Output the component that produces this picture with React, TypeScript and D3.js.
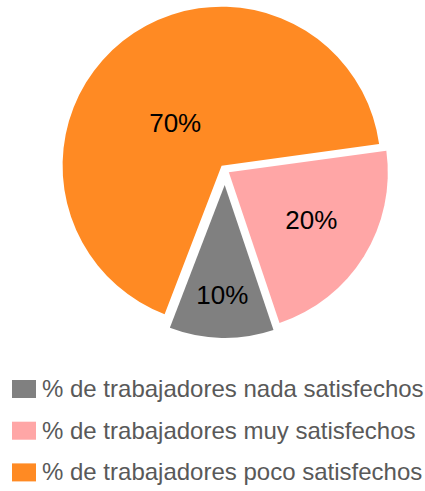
import React from "react";
import * as d3 from "d3";

const categories = [
  "% de trabajadores nada satisfechos",
  "% de trabajadores muy satisfechos",
  "% de trabajadores poco satisfechos",
];
// slice sizes
const values = [11, 22, 67];
const labels = ["10%", "20%", "70%"];
const colors = ["#808080", "#FFA6A6", "#FF8A23"];

const W = 425, H = 491;
const cx = 225, cy = 170;
const explode = [15, 4.5, 5.5];
const radii = [153, 159, 159];
const labelR = [110, 95, 63];
const labelShift = [0, -2, -9]; // degrees

export default function App() {
  const rad = (deg: number) => (deg * Math.PI) / 180;
  const pie = d3
    .pie<number>()
    .sort(null)
    .startAngle(rad(201))
    .endAngle(rad(201 - 360));
  const arcs = pie(values);

  return (
    <svg
      width={W}
      height={H}
      style={{ position: "absolute", left: 0, top: 0, background: "#fff" }}
      fontFamily="'Liberation Sans', Arial, sans-serif"
    >
      {arcs.map((a, i) => {
        const mid = (a.startAngle + a.endAngle) / 2;
        const ox = cx + Math.sin(mid) * explode[i];
        const oy = cy - Math.cos(mid) * explode[i];
        const path = d3.arc<any>()
          .innerRadius(0)
          .outerRadius(radii[i])
          .startAngle(Math.min(a.startAngle, a.endAngle))
          .endAngle(Math.max(a.startAngle, a.endAngle))({});
        const la = mid + rad(labelShift[i]);
        const lx = Math.sin(la) * labelR[i];
        const ly = -Math.cos(la) * labelR[i];
        return (
          <g key={i} transform={`translate(${ox},${oy})`}>
            <path d={path || ""} fill={colors[i]} />
            <text
              x={lx}
              y={ly}
              textAnchor="middle"
              dominantBaseline="central"
              fontSize={26}
              fill="#000"
            >
              {labels[i]}
            </text>
          </g>
        );
      })}
      {categories.map((c, i) => {
        const base = 397 + i * 41.7;
        return (
          <g key={c}>
            <rect x={12} y={base - 17} width={24} height={18} fill={colors[i]} />
            <text x={42} y={base} fontSize={24} fill="#595959">
              {c}
            </text>
          </g>
        );
      })}
    </svg>
  );
}
